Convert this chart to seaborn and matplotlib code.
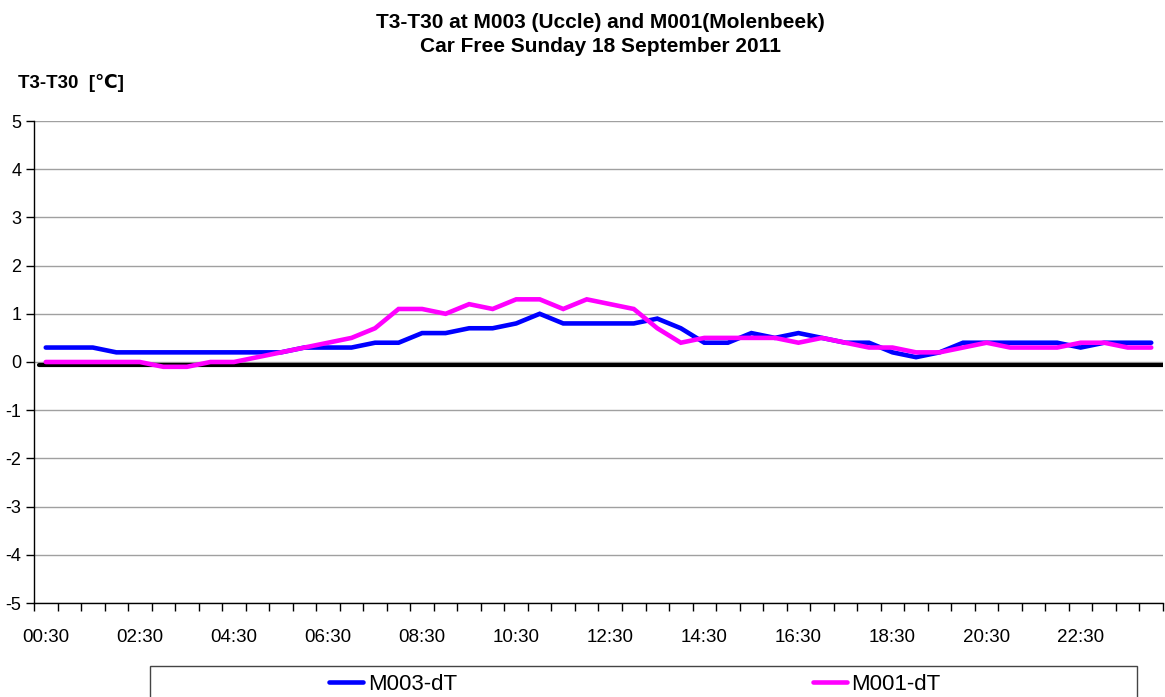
import numpy as np
import pandas as pd
import matplotlib
matplotlib.use("Agg")
import matplotlib.pyplot as plt
from matplotlib.patches import Rectangle
import seaborn as sns

times = ["00:30", "01:00", "01:30", "02:00", "02:30", "03:00", "03:30", "04:00",
         "04:30", "05:00", "05:30", "06:00", "06:30", "07:00", "07:30", "08:00",
         "08:30", "09:00", "09:30", "10:00", "10:30", "11:00", "11:30", "12:00",
         "12:30", "13:00", "13:30", "14:00", "14:30", "15:00", "15:30", "16:00",
         "16:30", "17:00", "17:30", "18:00", "18:30", "19:00", "19:30", "20:00",
         "20:30", "21:00", "21:30", "22:00", "22:30", "23:00", "23:30", "00:00"]

m003 = [0.3, 0.3, 0.3, 0.2, 0.2, 0.2, 0.2, 0.2, 0.2, 0.2, 0.2, 0.3, 0.3, 0.3, 0.4, 0.4,
        0.6, 0.6, 0.7, 0.7, 0.8, 1.0, 0.8, 0.8, 0.8, 0.8, 0.9, 0.7, 0.4, 0.4, 0.6, 0.5,
        0.6, 0.5, 0.4, 0.4, 0.2, 0.1, 0.2, 0.4, 0.4, 0.4, 0.4, 0.4, 0.3, 0.4, 0.4, 0.4]

m001 = [0.0, 0.0, 0.0, 0.0, 0.0, -0.1, -0.1, 0.0, 0.0, 0.1, 0.2, 0.3, 0.4, 0.5, 0.7, 1.1,
        1.1, 1.0, 1.2, 1.1, 1.3, 1.3, 1.1, 1.3, 1.2, 1.1, 0.7, 0.4, 0.5, 0.5, 0.5, 0.5,
        0.4, 0.5, 0.4, 0.3, 0.3, 0.2, 0.2, 0.3, 0.4, 0.3, 0.3, 0.3, 0.4, 0.4, 0.3, 0.3]

series_names = ["M003-dT", "M001-dT"]
series_colors = ["#0000FF", "#FF00FF"]
yticks = [-5, -4, -3, -2, -1, 0, 1, 2, 3, 4, 5]
label_every = 4
title_text = "T3-T30 at M003 (Uccle) and M001(Molenbeek)\nCar Free Sunday 18 September 2011"
ylabel_text = "T3-T30  [\u2103]"

sns.set_theme(style="white")
plt.rcParams["font.family"] = ["Liberation Sans", "DejaVu Sans"]
plt.rcParams["text.color"] = "black"

W, H = 1165, 697
fig = plt.figure(figsize=(W / 100, H / 100), dpi=100)
ax = fig.add_axes([34 / W, 1 - 603 / H, (1163 - 34) / W, (603 - 121) / H])

idx = np.arange(len(times))
df = pd.DataFrame({
    "x": np.concatenate([idx, idx]),
    "value": m003 + m001,
    "series": [series_names[0]] * len(m003) + [series_names[1]] * len(m001),
})

sns.lineplot(data=df, x="x", y="value", hue="series", hue_order=series_names,
             palette=series_colors, linewidth=3.3, ax=ax, legend=True,
             solid_joinstyle="miter")
handles, labels = ax.get_legend_handles_labels()
ax.get_legend().remove()

ax.set_xlim(-0.5, len(times) - 0.5)
ax.set_ylim(-5, 5)
ax.set_yticks(yticks)
ax.set_yticklabels([str(v) for v in yticks])
for v in yticks:
    ax.axhline(v, color="#a0a0a0", linewidth=1.0, zorder=0)
ax.axhline(-0.07, xmin=0.004, xmax=1, color="black", linewidth=3.0, zorder=1)

ax.set_xticks(idx[::label_every])
ax.set_xticklabels(times[::label_every])
ax.set_xticks(np.arange(len(times) + 1) - 0.5, minor=True)
ax.tick_params(axis="x", which="major", length=0, pad=19, labelsize=13.5, labelcolor="black")
ax.tick_params(axis="x", which="minor", length=6, width=1, color="black", bottom=True)
ax.tick_params(axis="y", which="major", length=6, width=1, color="black", left=True,
               labelsize=13, pad=3, labelcolor="black")

for s in ["top", "right"]:
    ax.spines[s].set_visible(False)
for s in ["left", "bottom"]:
    ax.spines[s].set_visible(True)
    ax.spines[s].set_color("black")
    ax.spines[s].set_linewidth(1.0)

ax.set_xlabel("")
ax.set_ylabel("")

fig.text(600 / W, 1 - 22 / H, title_text.split("\n")[0], ha="center", va="center",
         fontsize=15, fontweight="bold", color="black")
fig.text(600 / W, 1 - 47 / H, title_text.split("\n")[1], ha="center", va="center",
         fontsize=15, fontweight="bold", color="black")
fig.text(18 / W, 1 - 83 / H, ylabel_text, ha="left", va="center",
         fontsize=13.5, fontweight="bold", color="black")

rect = Rectangle((150 / W, -0.05), (1137 - 150) / W, (1 - 666 / H) + 0.05,
                 transform=fig.transFigure, facecolor="white", edgecolor="#444444",
                 linewidth=1.0, clip_on=False)
fig.patches.append(rect)

fig.legend(handles, labels, loc="center left", bbox_to_anchor=(329 / W, 1 - 684 / H),
           ncol=2, frameon=False, fontsize=16, handlelength=1.55, handletextpad=0.2,
           columnspacing=16.0, borderpad=0, borderaxespad=0, labelcolor="black")

fig.savefig("out.png", dpi=100)
